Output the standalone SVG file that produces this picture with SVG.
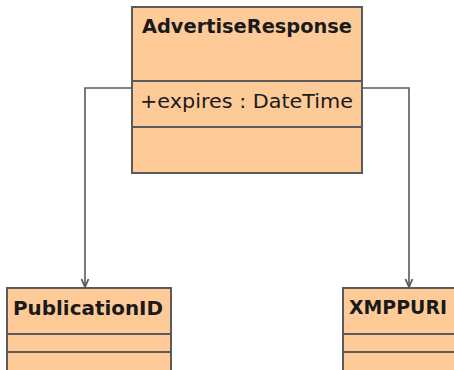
<svg xmlns="http://www.w3.org/2000/svg" width="454" height="370" viewBox="0 0 454 370">
  <style>
    .box { fill: #FECB98; stroke: #5a5a5a; stroke-width: 2; }
    .div { stroke: #5a5a5a; stroke-width: 2; fill: none; }
    .name { font-family: "DejaVu Sans", sans-serif; font-weight: bold; font-size: 20px; fill: #1a1a1a; }
    .attr { font-family: "DejaVu Sans", sans-serif; font-size: 20px; fill: #1a1a1a; }
    .conn { stroke: #5a5a5a; stroke-width: 1.6; fill: none; }
  </style>
  <defs>
    <!-- open V arrowhead, drawn along +x so orient="auto" points it down the line -->
    <marker id="arrow" markerWidth="10" markerHeight="10" refX="9" refY="5" orient="auto" markerUnits="userSpaceOnUse" viewBox="0 0 10 10">
      <path d="M1,1.5 L9,5 L1,8.5" fill="none" stroke="#5a5a5a" stroke-width="1.8"/>
    </marker>
  </defs>
  <g id="connectors">
    <path class="conn" d="M132,88 H85 V287" marker-end="url(#arrow)"/>
    <path class="conn" d="M362,88 H409 V287" marker-end="url(#arrow)"/>
  </g>
  <g id="AdvertiseResponse">
    <rect class="box" x="132" y="7" width="230" height="166"/>
    <line class="div" x1="132" y1="81" x2="362" y2="81"/>
    <line class="div" x1="132" y1="127" x2="362" y2="127"/>
    <text class="name" x="142" y="33" textLength="210" lengthAdjust="spacingAndGlyphs">AdvertiseResponse</text>
    <text class="attr" x="140" y="108" textLength="213" lengthAdjust="spacingAndGlyphs">+expires : DateTime</text>
  </g>
  <g id="PublicationID">
    <rect class="box" x="7" y="288" width="164" height="90"/>
    <line class="div" x1="7" y1="334" x2="171" y2="334"/>
    <line class="div" x1="7" y1="352" x2="171" y2="352"/>
    <text class="name" x="13" y="315" textLength="150" lengthAdjust="spacingAndGlyphs">PublicationID</text>
  </g>
  <g id="XMPPURI">
    <rect class="box" x="343" y="288" width="120" height="90"/>
    <line class="div" x1="343" y1="334" x2="463" y2="334"/>
    <line class="div" x1="343" y1="352" x2="463" y2="352"/>
    <text class="name" x="349" y="314" textLength="98" lengthAdjust="spacingAndGlyphs">XMPPURI</text>
  </g>
</svg>
